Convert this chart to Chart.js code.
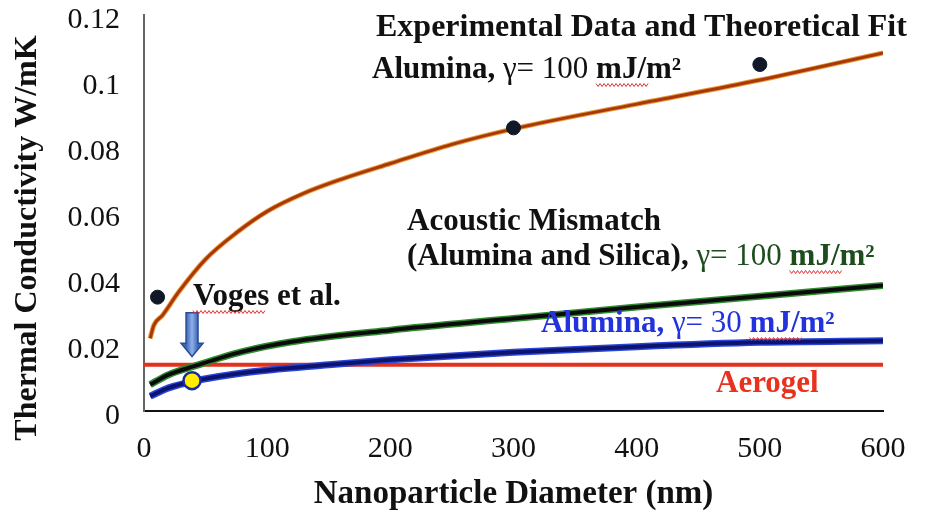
<!DOCTYPE html>
<html>
<head>
<meta charset="utf-8">
<script src="https://cdn.jsdelivr.net/npm/chart.js@4/dist/chart.umd.min.js"></script>
<style>
  html, body { margin: 0; padding: 0; background: #fff; }
  #wrap { width: 938px; height: 518px; position: relative; }
</style>
</head>
<body>
<div id="wrap"><canvas id="myChart"></canvas></div>
<script>
// axis ticks
var xTicks = [0, 100, 200, 300, 400, 500, 600]
var yTicks = [0, 0.02, 0.04, 0.06, 0.08, 0.1, 0.12]
var yTickLabels = ['0', '0.02', '0.04', '0.06', '0.08', '0.1', '0.12']
var yTitle = 'Thermal Conductivity W/mK'

// theoretical fit, alumina gamma = 100
var fitX = [5, 8, 15, 28, 50, 75, 100, 130, 160, 200, 250, 300, 400, 500, 600]
var fitY = [0.022, 0.026, 0.029, 0.036, 0.046, 0.054, 0.0605, 0.066, 0.0702, 0.075, 0.0808, 0.0855, 0.093, 0.1003, 0.1085]

// acoustic mismatch (alumina and silica)
var amX = [5, 20, 40, 80, 120, 200, 300, 400, 500, 600]
var amY = [0.008, 0.011, 0.0135, 0.018, 0.021, 0.0245, 0.028, 0.0315, 0.0348, 0.038]

// alumina gamma = 30
var a30X = [5, 20, 40, 80, 150, 200, 300, 400, 500, 600]
var a30Y = [0.0045, 0.007, 0.009, 0.0115, 0.014, 0.0155, 0.0178, 0.0195, 0.0208, 0.0213]

// aerogel
var aeroX = [0, 600]
var aeroY = [0.014, 0.014]

// experimental points
var expX = [11, 300, 500]
var expY = [0.0345, 0.0858, 0.105]

// Voges et al.
var vogesX = [39]
var vogesY = [0.0092]

function pts(xs, ys) { return xs.map((x, i) => ({x: x, y: ys[i]})) }

const ctx = document.getElementById('myChart');

// arrow + text labels
var notes = {
  id: 'notes',
  afterDatasetsDraw(chart) {
    const c = chart.ctx
    const sx = chart.scales.x, sy = chart.scales.y
    // arrow pointing at Voges point
    let ax = sx.getPixelForValue(vogesX[0])
    let top = sy.getPixelForValue(0.0298), mid = sy.getPixelForValue(0.0205), tip = sy.getPixelForValue(0.0165)
    c.save()
    let g = c.createLinearGradient(ax - 6, 0, ax + 6, 0)
    g.addColorStop(0, '#3b63b5'); g.addColorStop(0.5, '#8fb0ea'); g.addColorStop(1, '#3b63b5')
    c.fillStyle = g
    c.strokeStyle = '#2b4d96'
    c.lineWidth = 1.5
    c.beginPath()
    c.moveTo(ax - 6, top); c.lineTo(ax + 6, top); c.lineTo(ax + 6, mid)
    c.lineTo(ax + 11, mid); c.lineTo(ax, tip); c.lineTo(ax - 11, mid); c.lineTo(ax - 6, mid)
    c.closePath(); c.fill(); c.stroke()
    c.restore()

    // y axis title
    c.save()
    c.translate(28, 238)
    c.rotate(-Math.PI / 2)
    c.font = 'bold 32px "Liberation Serif"'
    c.fillStyle = '#111'
    c.textAlign = 'center'
    c.textBaseline = 'middle'
    c.fillText(yTitle, 0, 0)
    c.restore()

    function seg(parts, x, y) {
      c.textBaseline = 'middle'
      c.textAlign = 'left'
      parts.forEach(p => {
        c.font = p[2]
        c.fillStyle = p[1]
        c.fillText(p[0], x, y)
        let w = c.measureText(p[0]).width
        if (p[3]) squiggle(x + (p[3][0] * w), x + p[3][1] * w, y + 15)
        x += w
      })
    }
    function squiggle(x0, x1, y) {
      c.save()
      c.strokeStyle = '#e03030'
      c.lineWidth = 1
      c.beginPath()
      for (let x = x0, k = 0; x <= x1; x += 2, k++) {
        let yy = y + (k % 2 ? 1.5 : -1.5)
        if (k === 0) c.moveTo(x, yy); else c.lineTo(x, yy)
      }
      c.stroke()
      c.restore()
    }
    const B = 'bold 31px "Liberation Serif"'
    const R = '31px "Liberation Serif"'
    seg([['Experimental Data and Theoretical Fit', '#111', 'bold 32px "Liberation Serif"']], 376, 28)
    seg([['Alumina, ', '#111', B], ['\u03b3= 100 ', '#111', R], ['mJ/m\u00b2', '#111', B, [0, 0.62]]], 372, 70)
    seg([['Acoustic Mismatch', '#111', B]], 407, 222)
    seg([['(Alumina and Silica), ', '#111', B], ['\u03b3= 100 ', '#1d4d1d', R], ['mJ/m\u00b2', '#1d4d1d', B, [0, 0.62]]], 407, 257)
    seg([['Voges et al.', '#111', B, [0, 0.5]]], 193, 297)
    seg([['Alumina, ', '#2233dd', B], ['\u03b3= 30 ', '#2233dd', R], ['mJ/m\u00b2', '#2233dd', B, [0, 0.62]]], 541, 324)
    seg([['Aerogel', '#e8321e', B]], 716, 384)
  }
}

var chart = new Chart(ctx, {
  type: 'scatter',
  data: {
    datasets: [
      { label: 'Aerogel', order: 5, data: pts(aeroX, aeroY), showLine: true, borderColor: '#e2311c', borderWidth: 4, pointRadius: 0 },
      { label: 'AM halo', order: 4, data: pts(amX, amY), showLine: true, borderColor: '#2e8b2e', borderWidth: 7, pointRadius: 0, cubicInterpolationMode: 'monotone' },
      { label: 'Acoustic Mismatch', order: 3, data: pts(amX, amY), showLine: true, borderColor: '#0b0b0b', borderWidth: 4, pointRadius: 0, cubicInterpolationMode: 'monotone' },
      { label: 'A30 halo', order: 4, data: pts(a30X, a30Y), showLine: true, borderColor: '#2a45d8', borderWidth: 7, pointRadius: 0, cubicInterpolationMode: 'monotone' },
      { label: 'Alumina 30', order: 3, data: pts(a30X, a30Y), showLine: true, borderColor: '#0d1470', borderWidth: 4, pointRadius: 0, cubicInterpolationMode: 'monotone' },
      { label: 'Fit halo', order: 4, data: pts(fitX, fitY), showLine: true, borderColor: '#e89a3a', borderWidth: 5, pointRadius: 0, cubicInterpolationMode: 'monotone' },
      { label: 'Fit', order: 3, data: pts(fitX, fitY), showLine: true, borderColor: '#a8380a', borderWidth: 3, pointRadius: 0, cubicInterpolationMode: 'monotone' },
      { label: 'Experimental', order: 1, data: pts(expX, expY), showLine: false, pointRadius: 7, backgroundColor: '#111827', borderColor: '#111827' },
      { label: 'Voges et al.', order: 0, data: pts(vogesX, vogesY), showLine: false, pointRadius: 8.5, backgroundColor: '#ffee00', borderColor: '#1a2aa0', borderWidth: 2.5 }
    ]
  },
  options: {
    responsive: true,
    maintainAspectRatio: false,
    animation: false,
    layout: { autoPadding: false, padding: { top: 15, right: 55, left: 0, bottom: 4 } },
    plugins: { legend: { display: false }, tooltip: { enabled: false } },
    scales: {
      x: {
        type: 'linear', min: 0, max: 600,
        afterBuildTicks: s => { s.ticks = xTicks.map(v => ({value: v})) },
        afterFit: s => { s.height = 103; s.paddingLeft = 0; s.paddingRight = 0 },
        grid: { display: false, drawTicks: false },
        border: { color: '#111', width: 2 },
        ticks: { padding: 20, color: '#111', font: { family: 'Liberation Serif', size: 30 } },
        title: { display: true, text: 'Nanoparticle Diameter (nm)', color: '#111', padding: { top: 0, bottom: 0 },
                 font: { family: 'Liberation Serif', size: 33, weight: 'bold' } }
      },
      y: {
        min: 0, max: 0.12,
        afterBuildTicks: s => { s.ticks = yTicks.map(v => ({value: v})) },
        afterFit: s => { s.width = 144; s.paddingTop = 0; s.paddingBottom = 0 },
        grid: { display: false, drawTicks: false },
        border: { color: '#666', width: 2 },
        ticks: { padding: 24, labelOffset: 5, color: '#111', font: { family: 'Liberation Serif', size: 30 },
                 callback: (v, i) => yTickLabels[i] },
        title: { display: false }
      }
    }
  },
  plugins: [notes]
})
</script>
</body>
</html>
